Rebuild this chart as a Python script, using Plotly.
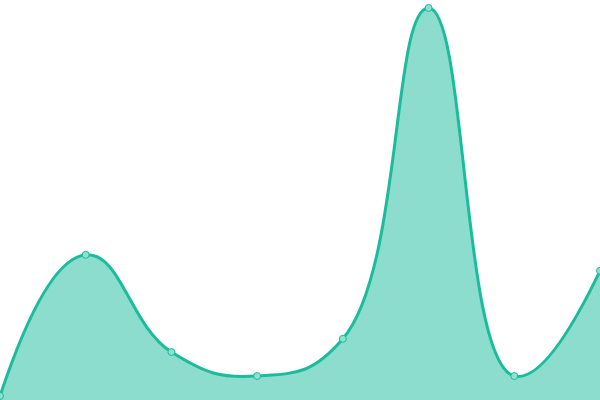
import plotly.graph_objects as go

x_values = [0, 1, 2, 3, 4, 5, 6, 7]
y_values = [1, 36.3, 12, 6, 15.3, 98, 6, 32.3]

fig = go.Figure()
fig.add_trace(go.Scatter(
    x=x_values, y=y_values,
    mode="lines+markers",
    line=dict(color="#1abc9c", width=3, shape="spline", smoothing=1.3),
    fill="tozeroy",
    fillcolor="rgba(26,188,156,0.5)",
    marker=dict(size=7, color="#8ee0cf", line=dict(color="#1abc9c", width=1)),
    cliponaxis=False,
))
fig.update_layout(
    width=600, height=400,
    margin=dict(l=0, r=0, t=0, b=0),
    paper_bgcolor="white", plot_bgcolor="white",
    showlegend=False,
    xaxis=dict(range=[0, 7], visible=False, fixedrange=True),
    yaxis=dict(range=[0, 100], visible=False, fixedrange=True),
)
fig.write_html(
    "out.html",
    config={"displayModeBar": False},
    post_script="document.body.style.margin='0';document.body.style.overflow='hidden';",
)
